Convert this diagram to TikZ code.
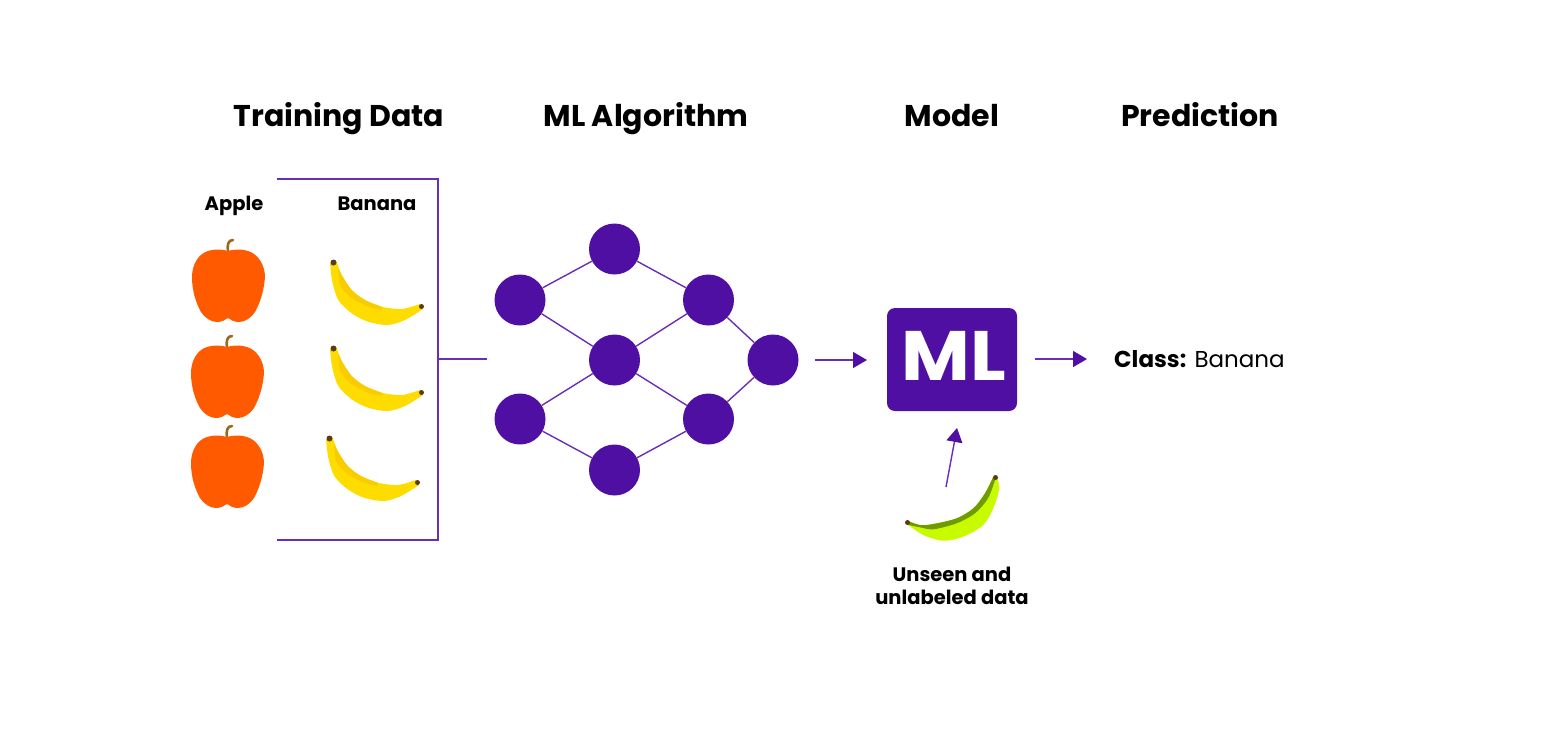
\documentclass[tikz,border=0pt]{standalone}
\usepackage{fontspec}
\setmainfont{Poppins}
\usetikzlibrary{arrows.meta}
\definecolor{mlpurple}{HTML}{4F0FA3}
\definecolor{mlline}{HTML}{6A2DB5}
\definecolor{applered}{HTML}{FF5A00}
\definecolor{stembrown}{HTML}{9A6A1E}
\definecolor{tipbrown}{HTML}{5A3A10}
\definecolor{bananayellow}{HTML}{FFDC00}
\definecolor{bananashade}{HTML}{F9CC00}
\definecolor{unripelime}{HTML}{C8FA00}
\definecolor{unripegreen}{HTML}{6F9A00}
\tikzset{
  neuron/.style={circle,fill=mlpurple,minimum size=51,inner sep=0},
  link/.style={draw=mlline,line width=1.4},
  flow/.style={link,-{Triangle[length=14,width=16,color=mlpurple]}},
  heading/.style={inner sep=0,anchor=base,font=\fontsize{30}{32}\selectfont\bfseries},
  sublabel/.style={inner sep=0,anchor=base,font=\fontsize{19.5}{24}\selectfont\bfseries},
  smalllabel/.style={inner sep=0,anchor=base,font=\fontsize{19.5}{23}\selectfont\bfseries},
  apple/.pic={
    \draw[stembrown,line width=2.6,line cap=round] (0,-33) .. controls (-1,-40) and (0,-45) .. (5,-45);
    \fill[applered] (0,-34) .. controls (-6,-36) and (-14,-36) .. (-20,-34)
      .. controls (-30,-31) and (-36,-20) .. (-36,-8)
      .. controls (-36,6) and (-32,18) .. (-27,27)
      .. controls (-23,33) and (-17,37) .. (-11,37)
      .. controls (-6,37) and (-3,35) .. (0,33)
      .. controls (3,35) and (6,37) .. (11,37)
      .. controls (17,37) and (23,33) .. (27,27)
      .. controls (32,18) and (36,6) .. (37,-8)
      .. controls (37,-20) and (30,-31) .. (20,-34)
      .. controls (14,-36) and (6,-36) .. (0,-34) -- cycle;
  },
  banana/.pic={
    \fill[bananayellow] plot[smooth] coordinates {(3.7,0.7) (8.7,14) (18.7,29) (32,39) (48.7,45.7) (68.7,48) (87,43)}
      -- plot[smooth] coordinates {(90,48) (72,59) (55,64) (35,60.7) (18.7,52.3) (5.3,39) (-0.7,20.7) (-3,2.3)} -- cycle;
    \fill[bananashade] plot[smooth] coordinates {(5.5,7) (8.7,14) (18.7,29) (32,39) (48.7,45.7)}
      -- plot[smooth] coordinates {(48.7,49) (35,45.7) (18.7,37) (7,24) (5.5,7)} -- cycle;
    \fill[tipbrown] (0.5,1.5) circle (3);
    \fill[tipbrown] (88.5,45.5) circle (2.5);
  },
}
\begin{document}
\begin{tikzpicture}[x=1pt,y=-1pt]
\useasboundingbox (0,0) rectangle (1542,748);
% headings
\node[heading] (training) at (339,126) {Training Data};
\node[heading] (algorithm) at (646,126) {ML Algorithm};
\node[heading] (modelhead) at (952,126) {Model};
\node[heading] (prediction) at (1200,126) {Prediction};
\node[sublabel] (applehead) at (234,210) {Apple};
\node[sublabel] (bananahead) at (377,210) {Banana};
% fruit
\pic at (228,285) {apple};
\pic at (227,381) {apple};
\pic at (227,471) {apple};
\pic at (333,261) {banana};
\pic at (333,347) {banana};
\pic at (329,437) {banana};
% bracket
\coordinate (brtop) at (277,179);
\coordinate (brtopr) at (438,179);
\coordinate (brbotr) at (438,540);
\coordinate (brbot) at (277,540);
\coordinate (brmid) at (438,359);
\coordinate (brout) at (487,359);
\draw[link,line join=miter] (brtop)--(brtopr)--(brbotr)--(brbot);
\draw[link] (brmid)--(brout);
% network
\node[neuron] (n1) at (520,300) {};
\node[neuron] (n2) at (520,419) {};
\node[neuron] (n3) at (614.5,249) {};
\node[neuron] (n4) at (614.5,360) {};
\node[neuron] (n5) at (614.5,470) {};
\node[neuron] (n6) at (708.5,300) {};
\node[neuron] (n7) at (708.5,419) {};
\node[neuron] (n8) at (773,360) {};
\foreach \a/\b in {n1/n3,n1/n4,n2/n4,n2/n5,n3/n6,n4/n6,n4/n7,n5/n7,n6/n8,n7/n8}
  \draw[link] (\a)--(\b);
% model
\node[fill=mlpurple,rounded corners=8,minimum width=130,minimum height=103,inner sep=0] (model) at (952,359.5) {};
\node[inner sep=0,white,xscale=1.07,font=\fontsize{70}{70}\selectfont\bfseries] (mltext) at (954,355.5) {ML};
\coordinate (netout) at (815,360);
\coordinate (modelin) at (867,360);
\coordinate (modelout) at (1035,359);
\coordinate (classin) at (1087,359);
\coordinate (unseenout) at (946,487);
\coordinate (unseenin) at (957,428);
\draw[flow] (netout)--(modelin);
\draw[flow] (modelout)--(classin);
\draw[flow] (unseenout)--(unseenin);
\node[anchor=base west,inner sep=0,font=\fontsize{23}{26}\selectfont] (class) at (1114,367) {\textbf{Class:} Banana};
% unseen banana
\fill[unripelime] plot[smooth] coordinates {(993.3,476.7) (985,493.3) (973.3,508.3) (956.7,518.3) (933.3,524) (920,525) (907.3,520.7)}
  -- plot[smooth] coordinates {(908.3,525) (923.3,535) (943.3,540.7) (963.3,536.7) (983.3,525) (993.3,508.3) (999,490) (997.7,478.3)} -- cycle;
\fill[unripegreen] plot[smooth] coordinates {(993.3,476.7) (985,493.3) (973.3,508.3) (956.7,518.3) (933.3,524) (920,525) (907.3,520.7)}
  -- plot[smooth] coordinates {(908.3,525) (920,527.3) (933.3,529.3) (956.7,523.3) (975,513.3) (988,498.3) (995,480)} -- cycle;
\fill[tipbrown] (907.5,522.5) circle (2.5);
\fill[tipbrown] (995.5,477.5) circle (2.5);
\node[smalllabel] (unseen) at (952,581) {Unseen and};
\node[smalllabel] (unlabeled) at (952,604) {unlabeled data};
\end{tikzpicture}
\end{document}
